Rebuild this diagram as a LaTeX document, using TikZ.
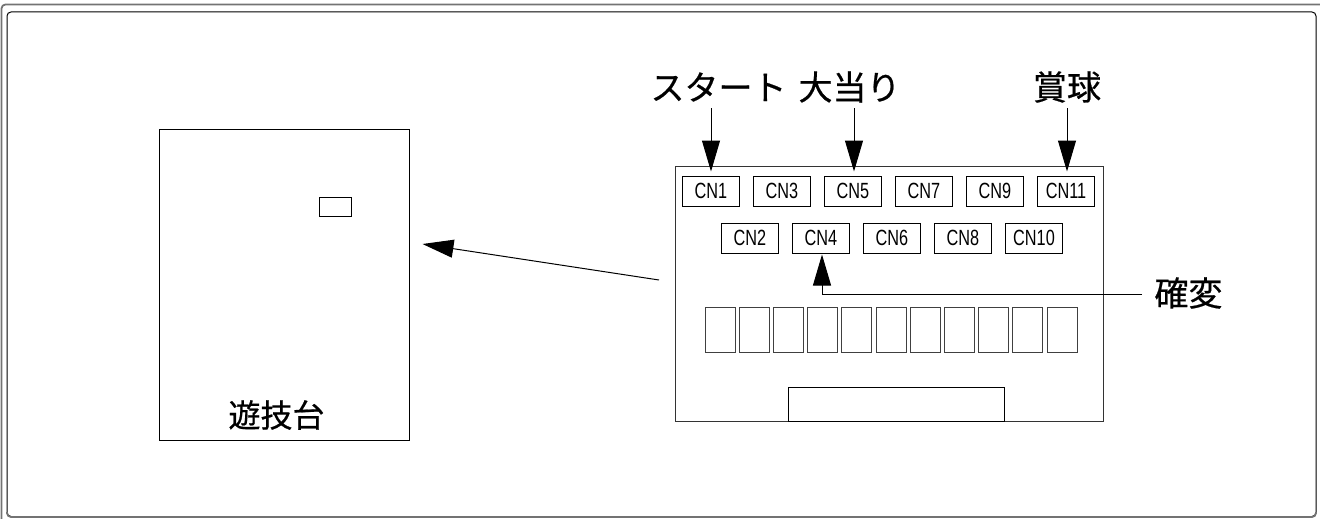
\documentclass[tikz,border=0pt]{standalone}
\usepackage{fontspec}
\setmainfont{Noto Sans CJK JP}
\newfontfamily\lblfont[FakeBold=0.6]{Noto Sans CJK JP}
\newfontfamily\cnfont[FakeStretch=0.74]{Liberation Sans}
\usetikzlibrary{arrows.meta,calc}
\tikzset{
  box/.style={draw=black, line width=1pt, inner sep=0pt, rectangle},
  cnbox/.style={box, minimum width=57pt, minimum height=30pt, font=\cnfont\fontsize{22}{22}\selectfont},
  keybox/.style={draw=black!75, line width=1pt, inner sep=0pt, minimum width=30pt, minimum height=45pt},
  lbl/.style={inner sep=0pt, font=\lblfont\fontsize{34}{34}\selectfont},
  arr/.style={line width=1pt, -{Triangle[length=31pt,width=18pt]}},
}
\begin{document}
\begin{tikzpicture}[x=1pt,y=-1pt]
\useasboundingbox (0,0) rectangle (1320,519);
% frame
\draw[black!55, line width=1.8pt, rounded corners=4pt] (1.5,519) -- (1.5,4.5) -- (1320,4.5);
\draw[black, line width=1pt, rounded corners=4pt] (7,12) rectangle (1316,516.5);
\draw[black!55, line width=1.8pt, rounded corners=4pt] (7,512) -- (7,517) -- (1316,517) -- (1316,512);
% game machine
\node[box, minimum width=250pt, minimum height=311pt] (game) at (284,284.5) {};
\node[box, minimum width=32pt, minimum height=19pt] (lamp) at (335,206.5) {};
\node[lbl, font=\lblfont\fontsize{32}{32}\selectfont] (gamelbl) at (276.5,415) {遊技台};
% board
\node[box, draw=black!80, minimum width=428pt, minimum height=255pt] (board) at (889,293.5) {};
\foreach \i/\n in {0/1,1/3,2/5,3/7,4/9,5/11}
  \node[cnbox] (cn\n) at ({711+71*\i},191) {CN\n};
\foreach \i/\n in {0/2,1/4,2/6,3/8,4/10}
  \node[cnbox] (cn\n) at ({750+71*\i},238) {CN\n};
\foreach \i in {0,...,10}
  \node[keybox] (key\i) at ({720+34.2*\i},329.5) {};
\node[box, minimum width=216pt, minimum height=34pt] (conn) at (896,404) {};
% labels
\node[lbl] (start) at (718.5,87) {スタート};
\node[lbl] (big) at (849.5,87) {大当り};
\node[lbl] (prize) at (1067,87) {賞球};
\node[lbl] (kakuhen) at (1188.5,293) {確変};
% arrows
\coordinate (s1) at (711,108);
\coordinate (s5) at (854,108);
\coordinate (s11) at (1067,108);
\draw[arr] (s1) -- ($(cn1.north)+(0,-4)$);
\draw[arr] (s5) -- ($(cn5.north)+(1,-4)$);
\draw[arr] (s11) -- ($(cn11.north)+(1,-4)$);
\coordinate (kk) at (1142,294);
\draw[arr] (kk) -| ($(cn4.south)+(1,1)$);
\coordinate (bl) at (659,280);
\draw[arr] (bl) -- ($(game.east)+(13,-40.5)$);
\end{tikzpicture}
\end{document}
